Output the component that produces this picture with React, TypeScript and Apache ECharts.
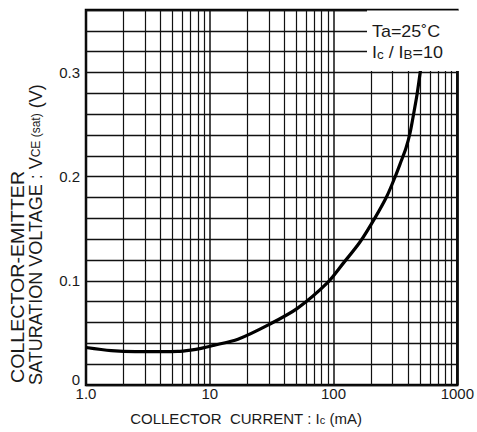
import React, { useEffect, useRef } from "react";
import * as echarts from "echarts";

// Collector current (mA) and VCE(sat) (V)
const currentMA = [1, 1.6, 2.5, 4, 5.5, 7, 8.5, 10.7, 16.9, 30, 51, 89, 120, 163, 215, 269, 313, 352, 385, 415, 442, 472, 494, 512];
const vceSat = [0.036, 0.033, 0.032, 0.032, 0.0322, 0.0335, 0.0352, 0.038, 0.044, 0.058, 0.0736, 0.098, 0.117, 0.137, 0.16, 0.181, 0.1992, 0.215, 0.2275, 0.2419, 0.2592, 0.2784, 0.2947, 0.3082];

const xTickLabels: Record<number, string> = { 1: "1.0", 10: "10", 100: "100", 1000: "1000" };
const yTickLabels = [0, 0.1, 0.2, 0.3];
const minorMultipliers = [2, 3, 4, 5, 6, 7, 8, 9];
const decades = [1, 10, 100];

const FONT = "Liberation Sans";
const INK = "#1a1a1a";

export default function App() {
  const ref = useRef<HTMLDivElement>(null);
  useEffect(() => {
    if (!ref.current) return;
    const chart = echarts.init(ref.current, undefined, { renderer: "svg" });
    const minorLines: any[] = [];
    decades.forEach((d) => minorMultipliers.forEach((m) => minorLines.push({ xAxis: d * m })));
    const data = currentMA.map((x, i) => [x, vceSat[i]]);
    chart.setOption({
      animation: false,
      backgroundColor: "#fff",
      grid: { left: 86, right: 15, top: 10, bottom: 47, show: true, borderColor: "#000", borderWidth: 2.5 },
      xAxis: {
        type: "log",
        logBase: 10,
        min: 1,
        max: 1000,
        axisLine: { show: false },
        axisTick: { show: false },
        splitLine: { show: true, lineStyle: { color: "#111", width: 1.5 } },
        axisLabel: {
          color: INK,
          fontFamily: FONT,
          fontSize: 15,
          margin: 1,
          lineHeight: 15,
          formatter: (v: number) => xTickLabels[Math.round(v)] ?? "",
        },
      },
      yAxis: {
        type: "value",
        min: 0,
        max: 0.36,
        interval: 0.02,
        axisLine: { show: false },
        axisTick: { show: false },
        splitLine: { show: true, lineStyle: { color: "#111", width: 1.3 } },
        axisLabel: {
          color: INK,
          fontFamily: FONT,
          fontSize: 15,
          margin: 6,
          formatter: (v: number) => {
            const hit = yTickLabels.find((t) => Math.abs(t - v) < 1e-6);
            if (hit === undefined) return "";
            return hit === 0 ? "{z|0}" : hit.toFixed(1);
          },
          rich: {
            z: { fontFamily: FONT, fontSize: 15, color: INK, padding: [0, 0, 12, 0], lineHeight: 15 },
          },
        },
      },
      series: [
        {
          type: "line",
          data,
          smooth: 0.3,
          symbol: "none",
          lineStyle: { color: "#000", width: 3.2 },
          z: 5,
          markLine: {
            silent: true,
            symbol: "none",
            label: { show: false },
            lineStyle: { color: "#111", width: 1.2, type: "solid" },
            data: minorLines,
            z: 1,
          },
        },
      ],
      graphic: [
        { type: "rect", shape: { x: 367, y: 10.6, width: 94, height: 60.5 }, style: { fill: "#fff" }, z: 10 },
        {
          type: "group",
          x: 372,
          y: 32,
          scaleX: 1.12,
          z: 11,
          children: [
            {
              type: "text",
              z: 11,
              style: { text: "Ta=25˚C", fontFamily: FONT, fontSize: 16, fill: INK, textVerticalAlign: "middle" },
            },
          ],
        },
        {
          type: "group",
          x: 372,
          y: 53,
          scaleX: 1.12,
          z: 11,
          children: [
            {
              type: "text",
              z: 11,
              style: {
                text: "I{s|c} / I{s|B}=10",
                fontFamily: FONT,
                fontSize: 16,
                fill: INK,
                textVerticalAlign: "middle",
                rich: { s: { fontSize: 12, fontFamily: FONT, fill: INK, padding: [3, 0, 0, 0] } },
              },
            },
          ],
        },
        {
          type: "text",
          x: 246,
          y: 418,
          z: 11,
          style: {
            text: "COLLECTOR  CURRENT : I{s|c} (mA)",
            fontFamily: FONT,
            fontSize: 15,
            fill: INK,
            textAlign: "center",
            textVerticalAlign: "middle",
            rich: { s: { fontSize: 11, fontFamily: FONT, fill: INK, padding: [4, 0, 0, 0] } },
          },
        },
        {
          type: "group",
          x: 18,
          y: 383,
          rotation: Math.PI / 2,
          scaleX: 1.09,
          z: 11,
          children: [
            {
              type: "text",
              z: 11,
              style: {
                text: "COLLECTOR-EMITTER",
                fontFamily: FONT,
                fontSize: 18,
                fill: INK,
                textAlign: "left",
                textVerticalAlign: "middle",
              },
            },
          ],
        },
        {
          type: "text",
          x: 36,
          y: 385,
          rotation: Math.PI / 2,
          z: 11,
          style: {
            text: "SATURATION VOLTAGE : V{s|CE (sat)} (V)",
            fontFamily: FONT,
            fontSize: 18,
            fill: INK,
            textAlign: "left",
            textVerticalAlign: "middle",
            rich: { s: { fontSize: 12, fontFamily: FONT, fill: INK } },
          },
        },
      ],
    });
    return () => chart.dispose();
  }, []);
  return <div ref={ref} style={{ width: 477, height: 432, position: "absolute", left: 0, top: 0 }} />;
}
